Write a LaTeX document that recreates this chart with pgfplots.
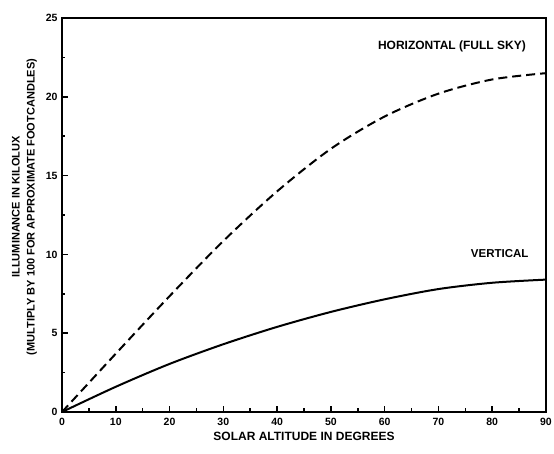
\documentclass[border=0pt]{standalone}
\usepackage{fontspec}
\setmainfont{Liberation Sans}
\usepackage{pgfplots}
\pgfplotsset{compat=1.18}
\begin{document}
\begin{tikzpicture}
\useasboundingbox (-62pt,-42pt) rectangle (492pt,412pt);
\begin{axis}[
  at={(0,0)}, anchor=south west,
  scale only axis, width=484pt, height=394pt,
  xmin=0, xmax=90, ymin=0, ymax=25,
  xtick={0,10,...,90}, ytick={0,5,...,25},
  minor xtick={5,15,...,85}, minor ytick={2.5,7.5,...,22.5},
  xtick pos=left, ytick pos=left,
  tick align=inside,
  major tick length=6pt, minor tick length=3.5pt,
  axis line style={line width=2pt},
  every tick/.style={line width=1.5pt, black},
  /pgf/number format/assume math mode=true,
  tick label style={font=\fontsize{10.5}{11}\selectfont\bfseries},
  xticklabel style={yshift=-3pt},
  yticklabel style={xshift=-1pt},
  xlabel={SOLAR ALTITUDE IN DEGREES},
  ylabel={ILLUMINANCE IN KILOLUX\\(MULTIPLY BY 100 FOR APPROXIMATE FOOTCANDLES)},
  xlabel style={font=\fontsize{12}{14}\selectfont\bfseries, yshift=1pt},
  ylabel style={font=\fontsize{11}{15}\selectfont\bfseries, align=center, xshift=8pt, yshift=2pt},
  clip=false,
]
\addplot[black, line width=2pt, dash pattern=on 9pt off 5pt, smooth] coordinates {
(0,0) (10,3.7) (20,7.35) (30,10.85) (40,14.0) (50,16.7) (60,18.75) (70,20.2) (80,21.1) (90,21.5)};
\addplot[black, line width=2pt, smooth] coordinates {
(0,0) (10,1.6) (20,3.05) (30,4.3) (40,5.4) (50,6.35) (60,7.15) (70,7.8) (80,8.2) (90,8.4)};
\node[font=\fontsize{12}{14}\selectfont\bfseries] at (axis cs:72.5,23.2) {HORIZONTAL (FULL SKY)};
\node[font=\fontsize{11.5}{14}\selectfont\bfseries] at (axis cs:81.4,10.05) {VERTICAL};
\end{axis}
\end{tikzpicture}
\end{document}
